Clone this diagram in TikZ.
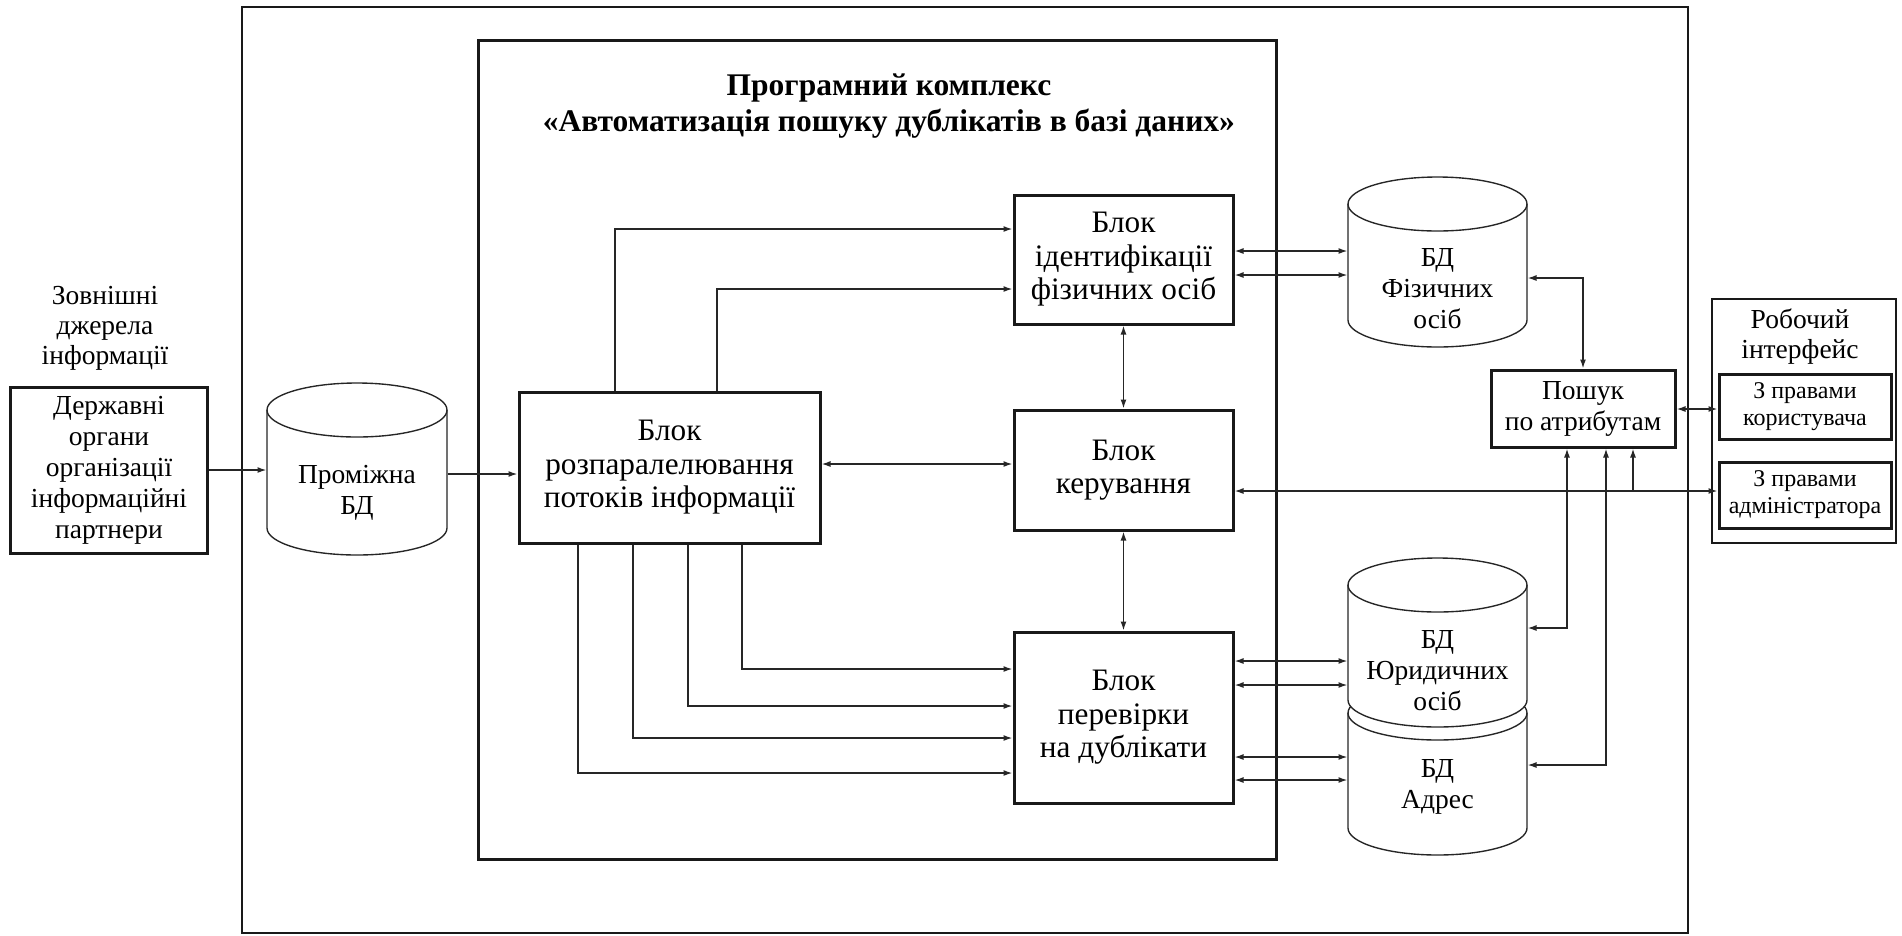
\documentclass[tikz,border=0pt]{standalone}
\usepackage{fontspec}
\setmainfont{Liberation Serif}
\usetikzlibrary{arrows.meta}
\newcommand{\mainsz}{\fontsize{11}{12.4}\selectfont}
\newcommand{\bigsz}{\fontsize{12.5}{13.4}\selectfont}
\newcommand{\lblsz}{\fontsize{11}{12}\selectfont}
\newcommand{\smallsz}{\fontsize{9.6}{10.8}\selectfont}
\newcommand{\titlesz}{\fontsize{12.6}{14.6}\selectfont\bfseries}
\newcommand{\dbcyl}[4]{%
  \pgfmathsetmacro{\cyL}{#1-#4}\pgfmathsetmacro{\cyR}{#1+#4}%
  \pgfmathsetmacro{\cyT}{#2+27}\pgfmathsetmacro{\cyB}{#3-27}%
  \draw[cylline,fill=white] (\cyL,\cyT) -- (\cyL,\cyB)
    arc[start angle=180,end angle=360,x radius=#4*0.4pt,y radius=10.8pt]
    -- (\cyR,\cyT)
    arc[start angle=0,end angle=180,x radius=#4*0.4pt,y radius=10.8pt] -- cycle;
  \draw[cylline] (\cyL,\cyT) arc[start angle=180,end angle=360,x radius=#4*0.4pt,y radius=10.8pt];}
\begin{document}
\begin{tikzpicture}[x=0.4pt,y=-0.4pt,
  conn/.style={line width=0.6pt, draw=black!85},
  arr/.style={conn, -{Latex[length=3.6pt,width=2.4pt]}},
  darr/.style={conn, {Latex[length=3.6pt,width=2.4pt]}-{Latex[length=3.6pt,width=2.4pt]}},
  frame/.style={draw=black!90, inner sep=0pt},
  blk/.style={draw=black!90, line width=1.2pt, inner sep=0pt, align=center, font=\mainsz},
  bblk/.style={blk, font=\bigsz},
  sblk/.style={blk, font=\smallsz},
  cyltext/.style={inner sep=0pt, align=center, font=\mainsz},
  cylline/.style={line width=0.55pt, draw=black!85},
  lbl/.style={inner sep=0pt, align=center, font=\lblsz}
]
\useasboundingbox (0,0) rectangle (1902,935);

% frames
\node[frame, line width=1pt, minimum width=578.4pt, minimum height=370.4pt] (outer) at (965,470) {};
\node[frame, line width=1.2pt, minimum width=318.8pt, minimum height=327.6pt] (inner) at (877.5,449.5) {};
\node[frame, line width=0.55pt, minimum width=73.6pt, minimum height=97.6pt] (rob) at (1804,421) {};

% title
\node[font=\titlesz, align=center, inner sep=0pt] (title) at (889,106)
  {Програмний комплекс\\«Автоматизація пошуку дублікатів в базі даних»};

% external sources
\node[lbl] (ext) at (105,328) {Зовнішні\\джерела\\інформації};
\node[blk, minimum width=78.4pt, minimum height=66.4pt] (src) at (109,470)
  {Державні\\органи\\організації\\інформаційні\\партнери};

% databases
\dbcyl{357}{383}{555}{90}
\node[cyltext, minimum width=72pt] (prom) at (357,493) {Проміжна\\БД};
\dbcyl{1437.5}{177}{347}{89.5}
\node[cyltext, minimum width=71.6pt] (fiz) at (1437.5,289) {БД\\Фізичних\\осіб};
\dbcyl{1437.5}{686}{855}{89.5}
\dbcyl{1437.5}{558}{727}{89.5}
\node[cyltext, minimum width=71.6pt] (jur) at (1437.5,671) {БД\\Юридичних\\осіб};
\node[cyltext, minimum width=71.6pt] (adr) at (1437.5,787) {БД\\Адрес};

% blocks
\node[bblk, minimum width=120.4pt, minimum height=60.4pt] (rozp) at (669.5,467.5)
  {Блок\\розпаралелювання\\потоків інформації};
\node[bblk, minimum width=87.6pt, minimum height=51.6pt] (ident) at (1123.5,259.5)
  {Блок\\ідентифікації\\фізичних осіб};
\node[bblk, minimum width=87.6pt, minimum height=48pt] (ker) at (1123.5,470)
  {Блок\\керування};
\node[bblk, minimum width=87.6pt, minimum height=68.4pt] (perev) at (1123.5,717.5)
  {Блок\\перевірки\\на дублікати};
\node[blk, minimum width=73.6pt, minimum height=30.8pt] (posh) at (1583,408.5)
  {Пошук\\по атрибутам};
\node[lbl] (roblbl) at (1800,337) {Робочий\\інтерфейс};
\node[sblk, minimum width=68.8pt, minimum height=26pt] (kor) at (1805,406.5)
  {З правами\\користувача};
\node[sblk, minimum width=68.8pt, minimum height=26.4pt] (adm) at (1805,495)
  {З правами\\адміністратора};

% connectors
\draw[arr] (src.east) -- (prom.west |- src.east);
\draw[arr] (prom.east |- 0,474) -- (rozp.west |- 0,474);
\draw[darr] (rozp.east |- 0,464) -- (ker.west |- 0,464);
\draw[arr] (rozp.north -| 615,0) |- (ident.west |- 0,229);
\draw[arr] (rozp.north -| 717,0) |- (ident.west |- 0,289);
\draw[arr] (rozp.south -| 742,0) |- (perev.west |- 0,669);
\draw[arr] (rozp.south -| 688,0) |- (perev.west |- 0,706);
\draw[arr] (rozp.south -| 633,0) |- (perev.west |- 0,738);
\draw[arr] (rozp.south -| 578,0) |- (perev.west |- 0,773);
\draw[darr] (ident.south) -- (ker.north);
\draw[darr] (ker.south) -- (perev.north);
\draw[darr] (ident.east |- 0,251) -- (fiz.west |- 0,251);
\draw[darr] (ident.east |- 0,275) -- (fiz.west |- 0,275);
\draw[darr] (perev.east |- 0,661) -- (jur.west |- 0,661);
\draw[darr] (perev.east |- 0,685) -- (jur.west |- 0,685);
\draw[darr] (perev.east |- 0,757) -- (adr.west |- 0,757);
\draw[darr] (perev.east |- 0,780) -- (adr.west |- 0,780);
\draw[darr] (fiz.east |- 0,278) -| (posh.north);
\draw[darr] (jur.east |- 0,628) -| (posh.south -| 1567,0);
\draw[darr] (adr.east |- 0,765) -| (posh.south -| 1606,0);
\draw[darr] (posh.east |- 0,409) -- (kor.west |- 0,409);
\draw[darr] (ker.east |- 0,491) -- (adm.west |- 0,491);
\coordinate (br) at (1633,491);
\draw[arr] (br) -- (posh.south -| br);
\end{tikzpicture}
\end{document}
